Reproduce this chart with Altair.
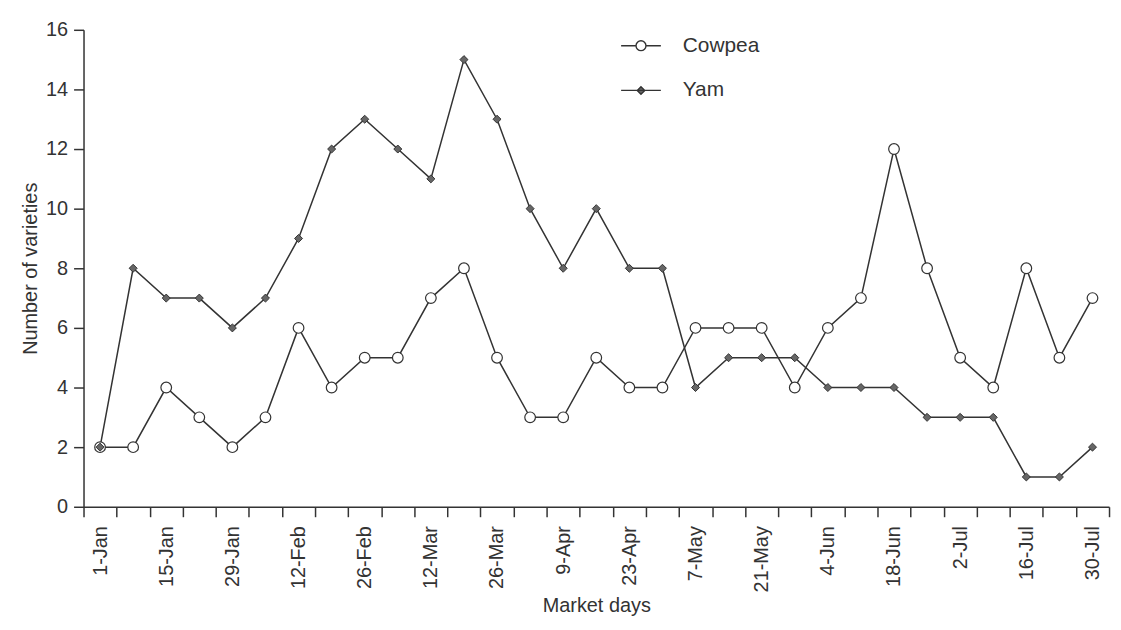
import altair as alt
import pandas as pd

dates = ["1-Jan", "8-Jan", "15-Jan", "22-Jan", "29-Jan", "5-Feb", "12-Feb", "19-Feb",
         "26-Feb", "5-Mar", "12-Mar", "19-Mar", "26-Mar", "2-Apr", "9-Apr", "16-Apr",
         "23-Apr", "30-Apr", "7-May", "14-May", "21-May", "28-May", "4-Jun", "11-Jun",
         "18-Jun", "25-Jun", "2-Jul", "9-Jul", "16-Jul", "23-Jul", "30-Jul"]
cowpea = [2, 2, 4, 3, 2, 3, 6, 4, 5, 5, 7, 8, 5, 3, 3, 5, 4, 4, 6, 6, 6, 4, 6, 7, 12, 8, 5, 4, 8, 5, 7]
yam = [2, 8, 7, 7, 6, 7, 9, 12, 13, 12, 11, 15, 13, 10, 8, 10, 8, 8, 4, 5, 5, 5, 4, 4, 4, 3, 3, 3, 1, 1, 2]
series = ["Cowpea", "Yam"]
shown_labels = dates[::2]

rows = []
for s, vals in zip(series, [cowpea, yam]):
    for d, v in zip(dates, vals):
        rows.append({"date": d, "value": v, "series": s})
df = pd.DataFrame(rows)

FONT = "Liberation Sans"
INK = "#333333"

label_list = "[" + ",".join("'" + l + "'" for l in shown_labels) + "]"

x = alt.X("date:N", sort=dates,
          scale=alt.Scale(type="band", paddingInner=0, paddingOuter=0),
          axis=alt.Axis(title="Market days", labelAngle=-90, tickBand="extent",
                        labelExpr=f"indexof({label_list}, datum.value) >= 0 ? datum.label : ''",
                        labelOverlap=False, labelBound=False, labelPadding=9,
                        tickSize=10, titlePadding=4))
y = alt.Y("value:Q", scale=alt.Scale(domain=[0, 16], nice=False),
          axis=alt.Axis(title="Number of varieties", values=list(range(0, 17, 2)),
                        tickSize=10, labelPadding=6, titlePadding=5, grid=False))

base = alt.Chart(df)

lines = base.mark_line(strokeWidth=1.5, color=INK).encode(x=x, y=y, detail="series:N")

cow_pts = base.transform_filter(alt.datum.series == "Cowpea").mark_point(
    shape="circle", size=115, filled=True, fill="white", stroke=INK, strokeWidth=1.2, opacity=1
).encode(x=x, y=y)

yam_pts = base.transform_filter(alt.datum.series == "Yam").mark_point(
    shape="diamond", size=65, filled=True, fill="#666666", stroke=INK, strokeWidth=1.0, opacity=1
).encode(x=x, y=y)

cow_path = "M-2,0H-0.5M0.5,0H2M-0.5,0A0.5,0.5,0,1,0,0.5,0A0.5,0.5,0,1,0,-0.5,0Z"
yam_path = "M-2,0H2M0,-0.38L0.38,0L0,0.38L-0.38,0Z"


def leg():
    return alt.Legend(
        title=None, orient="none", legendX=550, legendY=5,
        symbolSize=400, labelOffset=31, rowPadding=24, padding=0,
        labelFontSize=21, labelFont=FONT, labelColor=INK,
        symbolStrokeWidth=1.4, symbolOpacity=1)


legend_layer = base.mark_point(filled=True, size=400, opacity=0, strokeWidth=1.4).encode(
    x=x, y=y,
    shape=alt.Shape("series:N", scale=alt.Scale(domain=series, range=[cow_path, yam_path]), legend=leg()),
    fill=alt.Fill("series:N", scale=alt.Scale(domain=series, range=["white", "#666666"]), legend=leg()),
    stroke=alt.Stroke("series:N", scale=alt.Scale(domain=series, range=[INK, INK]), legend=leg()),
)

chart = alt.layer(lines, cow_pts, yam_pts, legend_layer).properties(
    width=1032, height=480,
    padding={"left": 12, "top": 10, "right": 0, "bottom": 0},
    background="white",
).configure_axis(
    labelFont=FONT, titleFont=FONT, labelFontSize=20, titleFontSize=20,
    labelColor=INK, titleColor=INK, domainColor=INK, tickColor=INK,
    titleFontWeight="normal", domainWidth=1.5, tickWidth=1.5,
).configure_view(stroke=None)

chart.save("out.html", embed_options={"renderer": "svg", "actions": False})
